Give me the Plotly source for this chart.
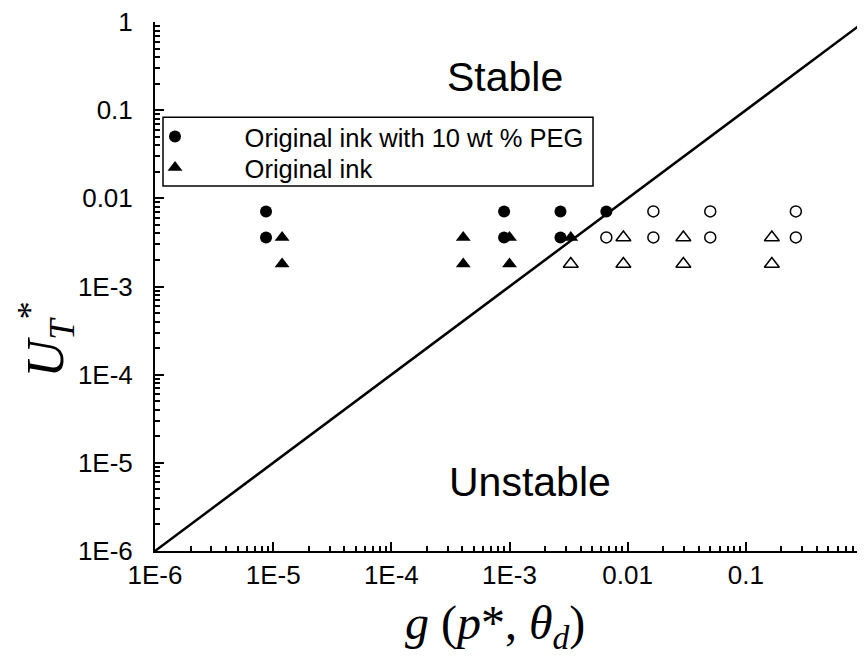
import plotly.graph_objects as go

# Data
peg_stable_x = [8.7e-6, 8.7e-6, 9.0e-4, 9.0e-4, 2.7e-3, 2.7e-3, 6.6e-3]
peg_stable_y = [0.0071, 0.0036, 0.0071, 0.0036, 0.0071, 0.0036, 0.0071]
peg_unstable_x = [6.6e-3, 0.0165, 0.0165, 0.05, 0.05, 0.265, 0.265]
peg_unstable_y = [0.0036, 0.0071, 0.0036, 0.0071, 0.0036, 0.0071, 0.0036]
ink_stable_x = [1.19e-5, 1.19e-5, 4.06e-4, 4.06e-4, 1.0e-3, 1.0e-3, 3.3e-3]
ink_stable_y = [0.0036, 0.0018, 0.0036, 0.0018, 0.0036, 0.0018, 0.0036]
ink_unstable_x = [3.3e-3, 9.2e-3, 9.2e-3, 0.0296, 0.0296, 0.166, 0.166]
ink_unstable_y = [0.0018, 0.0036, 0.0018, 0.0036, 0.0018, 0.0036, 0.0018]
boundary_x = [1e-6, 1]
boundary_y = [1e-6, 1]

tick_vals = [1e-6, 1e-5, 1e-4, 1e-3, 1e-2, 1e-1, 1]
tick_text = ["1E-6", "1E-5", "1E-4", "1E-3", "0.01", "0.1", "1"]
minor_vals = [m * 10.0 ** e for e in range(-6, 0) for m in range(2, 10)]

FONT = "Arial, 'Liberation Sans', sans-serif"
SERIF = "'Times New Roman', 'Liberation Serif', serif"
PAD = "\u00a0" * 7

fig = go.Figure()
fig.add_trace(go.Scatter(x=boundary_x, y=boundary_y, mode="lines",
                         line=dict(color="black", width=2.5), showlegend=False))
fig.add_trace(go.Scatter(x=peg_stable_x, y=peg_stable_y, mode="markers",
                         name=PAD + "Original ink with 10 wt % PEG", legend="legend",
                         marker=dict(symbol="circle", size=12, color="black")))
fig.add_trace(go.Scatter(x=ink_stable_x, y=ink_stable_y, mode="markers",
                         name=PAD + "Original ink", legend="legend2",
                         marker=dict(symbol="triangle-up", size=13, color="black")))
fig.add_trace(go.Scatter(x=peg_unstable_x, y=peg_unstable_y, mode="markers",
                         showlegend=False,
                         marker=dict(symbol="circle-open", size=11, color="black",
                                     line=dict(width=1.5, color="black"))))
fig.add_trace(go.Scatter(x=ink_unstable_x, y=ink_unstable_y, mode="markers",
                         showlegend=False,
                         marker=dict(symbol="triangle-up-open", size=13, color="black",
                                     line=dict(width=1.5, color="black"))))

axis_common = dict(
    type="log", range=[-6, 0], showline=True, linecolor="black", linewidth=2,
    showgrid=False, zeroline=False, ticks="inside", ticklen=9, tickwidth=2,
    tickcolor="black", tickmode="array", tickvals=tick_vals, ticktext=tick_text,
    tickfont=dict(family=FONT, size=26, color="black"), automargin=False,
    ticklabeloverflow="allow",
    minor=dict(tickmode="array", tickvals=minor_vals, ticks="inside",
               ticklen=5, tickwidth=1.5, tickcolor="black", showgrid=False),
)

legend_common = dict(xanchor="left", yanchor="middle", borderwidth=0,
                     bgcolor="rgba(0,0,0,0)", itemwidth=30,
                     font=dict(family=FONT, size=25.5, color="black"))

fig.update_layout(
    width=857, height=651,
    margin=dict(l=147, r=1, t=14, b=108),
    paper_bgcolor="white", plot_bgcolor="white",
    xaxis=dict(**axis_common, ticklabelstandoff=0),
    yaxis=dict(**axis_common, ticklabelstandoff=15),
    legend=dict(x=0.0, y=0.7826, **legend_common),
    legend2=dict(x=0.0, y=0.724, **legend_common),
    shapes=[dict(type="rect", xref="paper", yref="paper",
                 x0=0.0113, x1=0.6178, y0=0.690, y1=0.820,
                 line=dict(color="black", width=1.5), fillcolor="rgba(0,0,0,0)",
                 layer="below")],
    annotations=[
        dict(x=-3.04, y=-0.62, xref="x", yref="y", text="Stable", showarrow=False,
             font=dict(family=FONT, size=41, color="black")),
        dict(x=-2.83, y=-5.22, xref="x", yref="y", text="Unstable", showarrow=False,
             font=dict(family=FONT, size=41, color="black")),
        dict(x=-0.208, y=0.40, xref="paper", yref="paper", textangle=-90,
             text="<i>U</i><sub><i>T</i></sub><sup>*</sup>", showarrow=False,
             font=dict(family=SERIF, size=52, color="black")),
        dict(x=0.48, y=-0.203, xref="paper", yref="paper",
             text="<i>g</i> (<i>p</i>*, <i>θ</i><sub><i>d</i></sub>)", showarrow=False,
             font=dict(family=SERIF, size=48, color="black")),
    ],
)

fig.write_html("out.html")
